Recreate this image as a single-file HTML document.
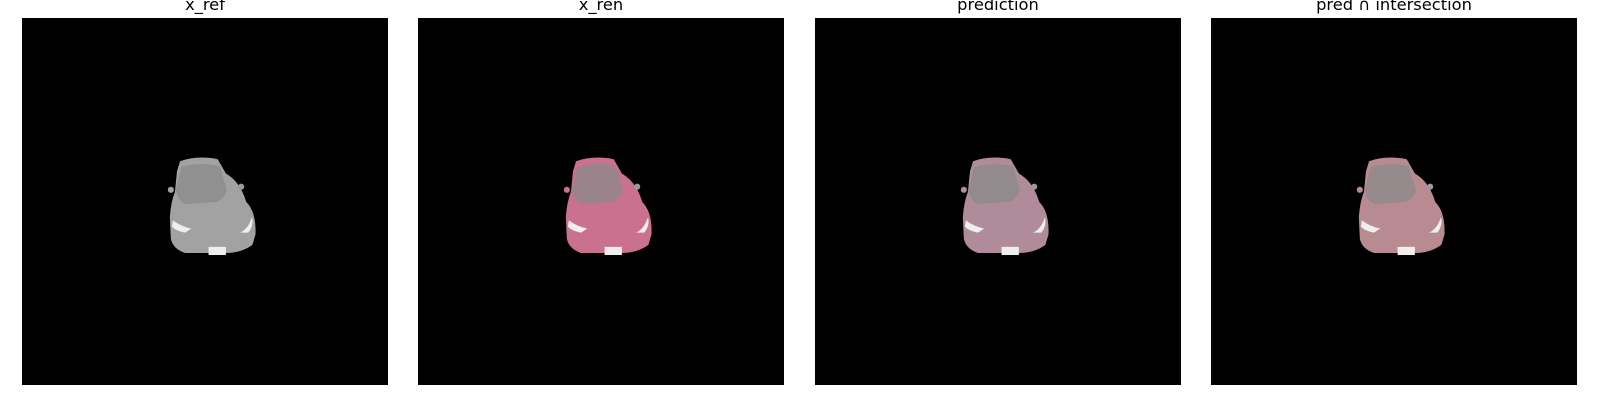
<!DOCTYPE html>
<html><head><meta charset="utf-8"><style>
html,body{margin:0;padding:0;background:#fff;width:1600px;height:400px;overflow:hidden}
.t{position:absolute;top:-5px;font:16.3px "DejaVu Sans","Liberation Sans",sans-serif;color:#000;text-align:center;width:366px}
.p{position:absolute;top:18px;width:366px;height:367px;background:#000}
</style></head><body>
<svg width="0" height="0" style="position:absolute">
<defs>
<symbol id="car" viewBox="0 0 359 359">
<path d="M155,140 Q172,134 192,138 L200,152 Q214,160 220,180 Q230,190 229,212 L226,222 Q215,230 200,230 L160,230 Q148,226 146,216 L145,195 Q146,180 150,170 L152,150 Z" fill="var(--c)"/>
<path d="M156,146 Q174,140 194,145 L201,168 Q198,178 190,180 L160,182 Q152,178 151,168 Z" fill="#8a8a8a" opacity="0.75"/>
<path d="M148,198 Q156,204 166,206 L160,210 Q150,208 147,204 Z" fill="#eee"/>
<path d="M225,196 Q222,206 214,210 L222,210 Q227,204 226,196 Z" fill="#eee"/>
<rect x="183" y="224" width="17" height="8" fill="#eee"/>
<circle cx="146" cy="168" r="3" fill="var(--c)"/>
<circle cx="215" cy="165" r="3" fill="#999"/>
</symbol>
</defs>
</svg>
<div class="t" style="left:22px">x_ref</div>
<div class="t" style="left:418px">x_ren</div>
<div class="t" style="left:815px">prediction</div>
<div class="t" style="left:1211px">pred ∩ intersection</div>
<div class="p" style="left:22px"><svg width="366" height="367" viewBox="0 0 359 359" style="--c:#a2a2a2"><use href="#car"/></svg></div>
<div class="p" style="left:418px"><svg width="366" height="367" viewBox="0 0 359 359" style="--c:#c9718f"><use href="#car"/></svg></div>
<div class="p" style="left:815px"><svg width="366" height="367" viewBox="0 0 359 359" style="--c:#b08c9a"><use href="#car"/></svg></div>
<div class="p" style="left:1211px"><svg width="366" height="367" viewBox="0 0 359 359" style="--c:#b88b92"><use href="#car"/></svg></div>
</body></html>
